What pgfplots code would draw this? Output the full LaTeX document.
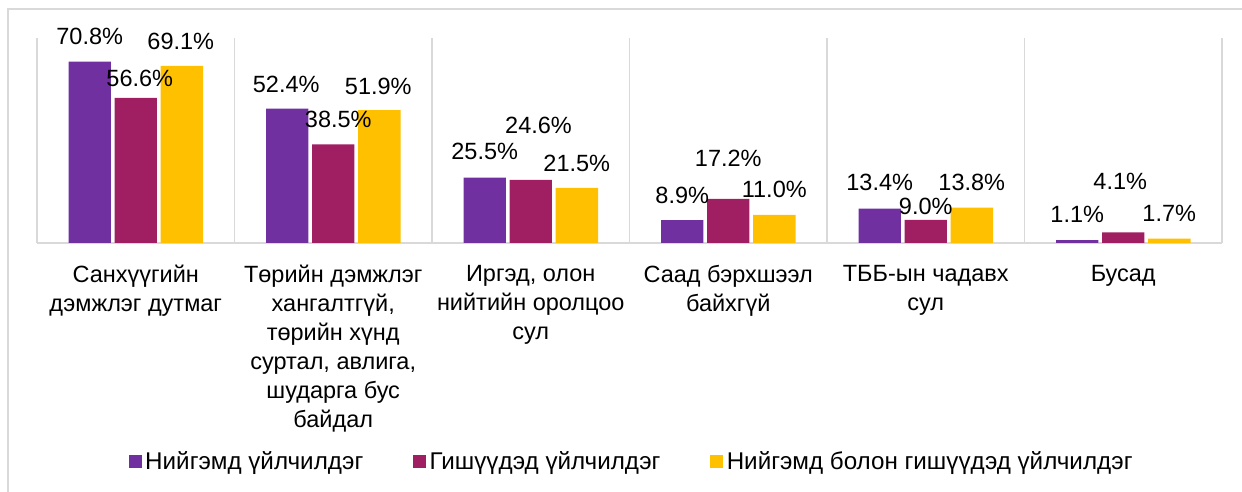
\documentclass[border=0pt]{standalone}
\usepackage{pgfplots}
\usepackage{pgfplotstable}
\pgfplotsset{compat=1.18}
\usepackage{fontspec}
\setmainfont{Liberation Sans}
\definecolor{cPur}{HTML}{7030A0}
\definecolor{cMar}{HTML}{A01F63}
\definecolor{cGold}{HTML}{FFC000}
\definecolor{cGrid}{HTML}{D9D9D9}

\pgfplotstableread{
x y dx dy
0 70.8 0 12.5
1 52.4 -0.5 12
2 25.5 0 12.9
3 8.9 0 12.5
4 13.4 0 12.9
5 1.1 0 12.7
}\tA
\pgfplotstableread{
x y dx dy
0 56.6 2 9.7
1 38.5 2.5 12.3
2 24.6 3.9 27.4
3 17.2 0 20.5
4 9.0 0 6.9
5 4.1 -1.5 25.3
}\tB
\pgfplotstableread{
x y dx dy
0 69.1 -0.5 12.4
1 51.9 -0.5 11.9
2 21.5 0 12
3 11.0 0 12.8
4 13.8 0 12.4
5 1.7 0 12.5
}\tC

\begin{document}
\begin{tikzpicture}
\useasboundingbox (0,0) rectangle (621pt,246pt);
\draw[cGrid, line width=0.75pt] (4pt,0) -- (4pt,241.5pt) -- (621pt,241.5pt);
\begin{axis}[
  at={(18.5pt,124.5pt)}, anchor=south west,
  scale only axis, width=592.5pt, height=102.5pt,
  ybar, bar width=0.215,
  xmin=-0.5, xmax=5.5, ymin=0, ymax=80,
  axis y line=none,
  axis x line*=bottom,
  x axis line style={cGrid, line width=0.75pt, -},
  xtick={0,...,5},
  minor xtick={-0.5,0.5,...,5.5},
  xminorgrids=true,
  minor grid style={cGrid, line width=0.75pt},
  major tick length=0pt, minor tick length=0pt,
  xticklabels={
    {Санхүүгийн\\дэмжлэг дутмаг},
    {Төрийн дэмжлэг\\хангалтгүй,\\төрийн хүнд\\суртал, авлига,\\шударга бус\\байдал},
    {Иргэд, олон\\нийтийн оролцоо\\сул},
    {Саад бэрхшээл\\байхгүй},
    {ТББ-ын чадавх\\сул},
    {Бусад}},
  xticklabel style={align=center, anchor=north, inner sep=0pt, yshift=-11pt,
    font={\fontsize{11.75}{14.5}\selectfont}},
  /pgf/number format/assume math mode=true,
  nodes near coords={\pgfmathprintnumber[fixed, fixed zerofill, precision=1]{\pgfplotspointmeta}\%},
  point meta=y,
  visualization depends on={\thisrow{dx} \as \mydx},
  visualization depends on={\thisrow{dy} \as \mydy},
  nodes near coords style={anchor=center, xshift=\mydx pt, yshift=\mydy pt,
    font={\fontsize{11.75}{14}\selectfont}, black},
  legend style={draw=none, fill=none, at={(0.5025,-1.068)}, anchor=center,
    inner sep=0pt, outer sep=0pt,
    font={\fontsize{12.1}{14}\selectfont},
    nodes={inner sep=1.8pt},
    /tikz/every even column/.append style={column sep=23pt}},
  legend columns=3,
  legend image code/.code={\fill[#1] (0pt,-3.25pt) rectangle (6.5pt,3.25pt);},
]
\addplot[fill=cPur, draw=none, bar shift=-0.233] table[x=x, y=y] {\tA};
\addplot[fill=cMar, draw=none, bar shift=0] table[x=x, y=y] {\tB};
\addplot[fill=cGold, draw=none, bar shift=0.233] table[x=x, y=y] {\tC};
\legend{Нийгэмд үйлчилдэг, Гишүүдэд үйлчилдэг, Нийгэмд болон гишүүдэд үйлчилдэг}
\end{axis}
\end{tikzpicture}
\end{document}
